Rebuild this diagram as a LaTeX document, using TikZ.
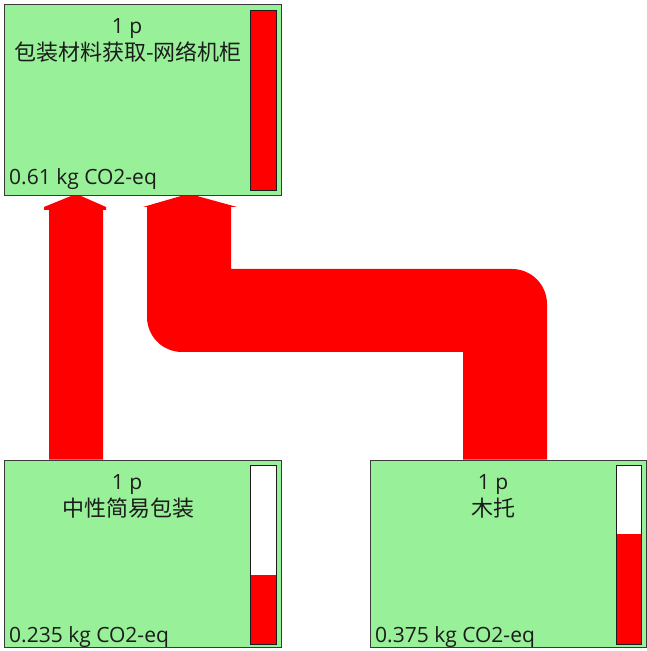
\documentclass[tikz,border=0pt]{standalone}
\usepackage{fontspec}
\setmainfont{Open Sans}
\newfontfamily\cjk{Noto Sans CJK SC}
\usetikzlibrary{backgrounds}
\definecolor{boxgreen}{HTML}{98F098}
\definecolor{flowred}{HTML}{FF0000}
\definecolor{edgegray}{HTML}{3A3A3A}
\definecolor{inkdark}{HTML}{1C1C1C}
\begin{document}
\begin{tikzpicture}[x=1pt,y=1pt,
  proc/.style={draw=edgegray, line width=1.3pt, fill=boxgreen, inner sep=0pt, anchor=south west},
  gauge/.style={draw=inkdark, line width=1.3pt, fill=white, inner sep=0pt, anchor=south west,
     minimum width=26pt, minimum height=179pt,
     path picture={\fill[flowred] (path picture bounding box.south west) rectangle ([yshift=#1]path picture bounding box.south east);}},
  lbl/.style={anchor=base, inner sep=0pt, font=\fontsize{21}{25}\selectfont, text=inkdark},
  clbl/.style={anchor=base, inner sep=0pt, font=\cjk\fontsize{22}{26}\selectfont, text=inkdark},
  val/.style={anchor=base west, inner sep=0pt, font=\fontsize{21}{25}\selectfont, text=inkdark},
  flow/.style={fill=flowred}]
\useasboundingbox (0,0) rectangle (647,651);

% process boxes
\node[proc, minimum width=277pt, minimum height=191pt] (pack) at (4,455) {};
\node[proc, minimum width=277pt, minimum height=187pt] (neutral) at (4,3) {};
\node[proc, minimum width=276pt, minimum height=187pt] (pallet) at (370,3) {};

% gauges
\node[gauge=180pt, minimum height=180pt] (packbar) at (250,460) {};
\node[gauge=69pt] (neutralbar) at (250,6) {};
\node[gauge=110pt, minimum width=25pt] (palletbar) at (616,6) {};

% labels
\node[lbl] (packqty) at (127,617) {1 p};
\node[clbl] (packname) at (128,590) {包装材料获取-网络机柜};
\node[val] (packval) at (9,466) {0.61 kg CO2-eq};

\node[lbl] (neutralqty) at (127,161) {1 p};
\node[clbl] (neutralname) at (128,134.5) {中性简易包装};
\node[val] (neutralval) at (9,9) {0.235 kg CO2-eq};

\node[lbl] (palletqty) at (493,161) {1 p};
\node[clbl] (palletname) at (493,134.5) {木托};
\node[val] (palletval) at (375,9) {0.375 kg CO2-eq};

% flows
\begin{scope}[on background layer]
\fill[flow] (49,0 |- neutral.north) -- (49,441) -- (44,441) -- (44,444) -- (71,0 |- pack.south)
  -- (81,0 |- pack.south) -- (106,444) -- (106,441) -- (103,441) -- (103,0 |- neutral.north) -- cycle;
\fill[flow] (463,0 |- pallet.north) -- (463,299) -- (182,299)
  arc[start angle=270, end angle=180, radius=35] -- (147,444) -- (143,444)
  -- (181,0 |- pack.south) -- (197,0 |- pack.south) -- (237,444) -- (231,444) -- (231,382) -- (512,382)
  arc[start angle=90, end angle=0, radius=35] -- (547,0 |- pallet.north) -- cycle;
\end{scope}
\end{tikzpicture}
\end{document}
